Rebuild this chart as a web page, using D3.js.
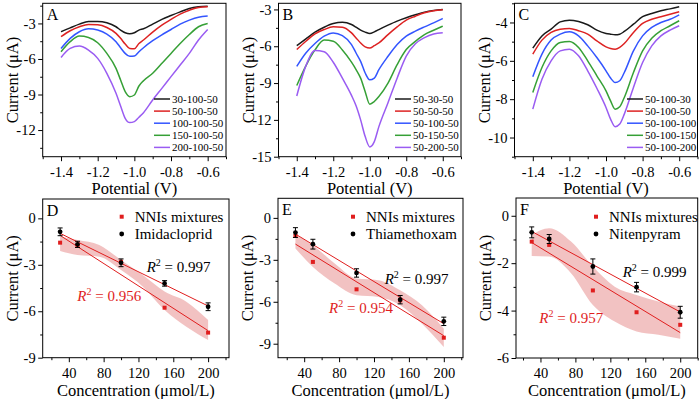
<!DOCTYPE html>
<html>
<head>
<meta charset="utf-8">
<script src="https://cdn.jsdelivr.net/npm/d3@7/dist/d3.min.js"></script>
<style>
  body { margin: 0; background: #fff; }
  svg { display: block; font-family: "Liberation Serif", "Times New Roman", serif; }
</style>
</head>
<body>
<svg id="chart" width="700" height="399"></svg>
<script>
// ---- DPV curves (panels A-C) ----
const potentialAB = [-1.4, -1.35, -1.3, -1.25, -1.2, -1.15, -1.1, -1.075, -1.05, -1.025, -1.0, -0.975, -0.95, -0.9, -0.85, -0.8, -0.75, -0.7, -0.65, -0.6];
const potentialC = [-1.4, -1.35, -1.3, -1.25, -1.2, -1.15, -1.1, -1.05, -1.0, -0.975, -0.95, -0.925, -0.9, -0.85, -0.8, -0.75, -0.7, -0.65, -0.6];

const labelsA = ['30-100-50', '50-100-50', '100-100-50', '150-100-50', '200-100-50'];
const currentA30 = [-3.70, -3.37, -3.06, -2.83, -2.83, -2.94, -3.28, -3.56, -3.79, -3.87, -3.79, -3.56, -3.45, -3.06, -2.66, -2.33, -2.02, -1.74, -1.60, -1.54];
const currentA50 = [-4.12, -3.62, -3.28, -3.08, -3.11, -3.34, -3.84, -4.26, -4.74, -5.11, -5.13, -4.69, -4.40, -3.73, -3.14, -2.66, -2.21, -1.88, -1.65, -1.60];
const currentA100 = [-5.11, -4.26, -3.70, -3.45, -3.56, -3.90, -4.54, -5.05, -5.53, -5.78, -5.75, -5.39, -5.05, -4.46, -3.96, -3.51, -3.06, -2.72, -2.47, -2.38];
const currentA150 = [-5.39, -4.54, -4.07, -4.18, -4.63, -5.53, -6.79, -7.78, -8.76, -9.18, -9.04, -8.28, -7.83, -7.21, -6.37, -5.53, -4.69, -3.93, -3.28, -3.00];
const currentA200 = [-5.87, -5.11, -4.91, -5.25, -5.95, -7.21, -8.90, -9.97, -11.01, -11.37, -11.29, -10.92, -10.53, -9.46, -8.48, -7.49, -6.51, -5.53, -4.40, -3.51];

const labelsB = ['50-30-50', '50-50-50', '50-100-50', '50-150-50', '50-200-50'];
const currentB30 = [-5.95, -5.40, -4.85, -4.45, -4.15, -4.04, -4.23, -4.45, -4.69, -4.85, -4.96, -4.83, -4.64, -4.28, -3.95, -3.68, -3.44, -3.22, -3.08, -3.00];
const currentB50 = [-6.27, -5.59, -4.99, -4.64, -4.42, -4.45, -4.91, -5.32, -5.73, -6.05, -6.14, -5.95, -5.73, -5.05, -4.42, -3.87, -3.55, -3.27, -3.11, -3.03];
const currentB100 = [-7.64, -6.55, -5.78, -5.18, -4.91, -5.13, -5.86, -6.55, -7.23, -8.18, -8.73, -8.59, -7.91, -6.82, -5.86, -5.18, -4.77, -4.42, -4.09, -3.74];
const currentB150 = [-9.20, -7.60, -6.30, -5.50, -5.60, -6.30, -7.30, -7.90, -8.60, -9.70, -10.72, -10.50, -10.10, -9.00, -7.50, -6.27, -5.60, -5.05, -4.70, -4.36];
const currentB200 = [-10.05, -7.60, -6.35, -6.45, -7.30, -8.60, -10.00, -10.85, -12.00, -13.36, -14.20, -13.77, -12.55, -10.60, -8.60, -6.80, -5.80, -5.30, -5.00, -4.90];

const labelsC = ['50-100-30', '50-100-50', '50-100-100', '50-100-150', '50-100-200'];
const currentC30 = [-5.34, -4.70, -4.35, -3.97, -3.88, -3.95, -4.12, -4.40, -4.57, -4.61, -4.64, -4.61, -4.47, -4.09, -3.70, -3.53, -3.39, -3.29, -3.18];
const currentC50 = [-5.65, -4.92, -4.52, -4.35, -4.31, -4.43, -4.61, -4.96, -5.27, -5.36, -5.39, -5.30, -5.10, -4.52, -4.05, -3.83, -3.70, -3.57, -3.44];
const currentC100 = [-6.83, -5.65, -4.92, -4.61, -4.49, -4.70, -5.22, -5.83, -6.52, -6.90, -7.13, -7.04, -6.61, -5.48, -4.70, -4.26, -4.00, -3.83, -3.60];
const currentC150 = [-7.65, -6.35, -5.48, -5.04, -4.99, -5.30, -6.00, -6.78, -7.57, -8.09, -8.52, -8.40, -7.91, -6.61, -5.48, -4.82, -4.43, -4.17, -3.91];
const currentC200 = [-8.52, -6.96, -6.00, -5.48, -5.39, -5.74, -6.52, -7.43, -8.43, -9.04, -9.44, -9.30, -8.78, -7.39, -6.09, -5.22, -4.70, -4.40, -4.17];

// ---- calibration (panels D-F) ----
const concentration = [30, 50, 100, 150, 200];
const imidacloprid = [-0.87, -1.68, -2.87, -4.20, -5.71];
const imidaclopridErr = [0.25, 0.20, 0.25, 0.18, 0.25];
const mixturesD = [-1.57, -1.75, -2.80, -5.77, -7.38];
const thiamethoxam = [-1.05, -1.88, -3.94, -5.85, -7.40];
const thiamethoxamErr = [0.35, 0.35, 0.30, 0.30, 0.30];
const mixturesE = [-1.29, -3.15, -5.11, -5.90, -8.57];
const nitenpyram = [-0.70, -0.98, -2.14, -3.01, -4.07];
const nitenpyramErr = [0.23, 0.19, 0.32, 0.20, 0.25];
const mixturesF = [-1.09, -1.23, -3.15, -4.07, -4.60];

// shaded bands around the mixtures
const bandConc = [30, 50, 75, 100, 125, 150, 175, 200];
const bandUpperD = [-1.19, -1.40, -1.72, -2.69, -3.66, -4.73, -5.38, -6.57];
const bandLowerD = [-2.11, -2.37, -2.48, -3.34, -4.41, -5.92, -7.00, -7.86];
const bandUpperE = [-1.19, -1.95, -3.27, -4.34, -4.46, -5.18, -6.25, -7.93];
const bandLowerE = [-2.19, -3.51, -4.70, -5.54, -5.66, -6.25, -7.57, -9.24];
const bandUpperF = [-0.81, -0.53, -1.09, -2.14, -2.99, -3.34, -3.62, -3.83];
const bandLowerF = [-1.70, -1.72, -2.42, -3.76, -4.46, -4.88, -5.02, -5.19];

const COLORS = ['#1a1a1a', '#dd2222', '#3355ff', '#36a036', '#9a5cf2'];
const RED = '#e01e1e';
const SERIF = '"Liberation Serif", "Times New Roman", serif';
const TICK_FONT = 14.5;
const TITLE_FONT = 16.5;

const svg = d3.select('#chart');

function fmtX(d) {
  return d.toFixed(1);
}

function drawAxes(p) {
  const x = d3.scaleLinear().domain(p.xDomain).range(p.xRange);
  const y = d3.scaleLinear().domain(p.yDomain).range(p.yRange);
  const x0 = p.xRange[0], x1 = p.xRange[1];
  const yb = p.yRange[0], yt = p.yRange[1];

  const styleAxis = g => {
    g.attr('font-family', SERIF);
    g.select('.domain').remove();
    g.selectAll('line').attr('stroke', '#000');
    g.selectAll('text')
      .attr('font-family', SERIF)
      .attr('font-size', TICK_FONT)
      .attr('fill', '#000');
  };

  // minor ticks
  svg.append('g')
    .attr('transform', `translate(0,${yb})`)
    .call(d3.axisBottom(x).tickValues(p.xMinor).tickSize(2.5).tickFormat(''))
    .call(styleAxis);
  svg.append('g')
    .attr('transform', `translate(${x0},0)`)
    .call(d3.axisLeft(y).tickValues(p.yMinor).tickSize(2.5).tickFormat(''))
    .call(styleAxis);

  // major ticks
  svg.append('g')
    .attr('transform', `translate(0,${yb})`)
    .call(d3.axisBottom(x).tickValues(p.xMajor).tickSize(4.5).tickPadding(5.5).tickFormat(p.xFormat))
    .call(styleAxis);
  svg.append('g')
    .attr('transform', `translate(${x0},0)`)
    .call(d3.axisLeft(y).tickValues(p.yMajor).tickSize(4.5).tickPadding(2.5).tickFormat(d => String(d)))
    .call(styleAxis);

  // frame
  svg.append('rect')
    .attr('x', x0).attr('y', yt)
    .attr('width', x1 - x0).attr('height', yb - yt)
    .attr('fill', 'none').attr('stroke', '#000').attr('stroke-width', 1);

  // titles
  svg.append('text')
    .attr('x', (x0 + x1) / 2).attr('y', p.xTitleY)
    .attr('text-anchor', 'middle')
    .attr('font-family', SERIF)
    .attr('font-size', TITLE_FONT)
    .text(p.xTitle);
  svg.append('text')
    .attr('transform', `translate(${x0 - 25},${(yb + yt) / 2}) rotate(-90)`)
    .attr('text-anchor', 'middle')
    .attr('font-family', SERIF)
    .attr('font-size', TITLE_FONT)
    .text('Current (\u03bcA)');

  // panel letter
  svg.append('text')
    .attr('x', x0 + 4).attr('y', yt + 17)
    .attr('font-family', SERIF)
    .attr('font-size', 16)
    .text(p.letter);

  return { x, y };
}

function drawDpv(p) {
  const { x, y } = drawAxes(Object.assign({
    xDomain: [-1.5, -0.5],
    xMajor: [-1.4, -1.2, -1.0, -0.8, -0.6],
    xMinor: [-1.5, -1.3, -1.1, -0.9, -0.7, -0.5],
    xFormat: fmtX,
    xTitle: 'Potential (V)',
    xTitleY: 194
  }, p));

  const line = d3.line()
    .x(d => x(d[0]))
    .y(d => y(d[1]))
    .curve(d3.curveMonotoneX);

  p.series.forEach((s, i) => {
    svg.append('path')
      .attr('d', line(p.potential.map((v, k) => [v, s[k]])))
      .attr('fill', 'none')
      .attr('stroke', COLORS[i])
      .attr('stroke-width', 1.5);
  });

  // legend
  const lg = svg.append('g');
  p.labels.forEach((lab, i) => {
    const ly = 99 + i * 12.1;
    lg.append('line')
      .attr('x1', p.legendX).attr('x2', p.legendX + 16)
      .attr('y1', ly).attr('y2', ly)
      .attr('stroke', COLORS[i]).attr('stroke-width', 1.5);
    lg.append('text')
      .attr('x', p.legendX + 18).attr('y', ly + 3.8)
      .attr('font-family', SERIF)
      .attr('font-size', 11)
      .text(lab);
  });
}

function fit(xs, ys) {
  const mx = d3.mean(xs), my = d3.mean(ys);
  let sxy = 0, sxx = 0;
  xs.forEach((v, i) => { sxy += (v - mx) * (ys[i] - my); sxx += (v - mx) * (v - mx); });
  const slope = sxy / sxx;
  return v => my + slope * (v - mx);
}

function r2Label(xp, yp, value, color) {
  const t = svg.append('text')
    .attr('x', xp).attr('y', yp)
    .attr('font-family', SERIF)
    .attr('font-size', 15)
    .attr('fill', color);
  t.append('tspan').attr('font-style', 'italic').text('R');
  t.append('tspan').attr('font-size', 10).attr('dy', -6).text('2');
  t.append('tspan').attr('dy', 6).text(' = ' + value);
}

function drawCalib(p) {
  const { x, y } = drawAxes(Object.assign({
    xMajor: [40, 80, 120, 160, 200],
    xMinor: [20, 60, 100, 140, 180, 220].filter(v => v >= p.xDomain[0] && v <= p.xDomain[1]),
    xFormat: d => String(d),
    xTitle: 'Concentration (\u03bcmol/L)',
    xTitleY: 396
  }, p));

  // shaded band
  const area = d3.area()
    .x((d, i) => x(bandConc[i]))
    .y0((d, i) => y(p.bandLower[i]))
    .y1((d, i) => y(p.bandUpper[i]))
    .curve(d3.curveMonotoneX);
  svg.append('path')
    .attr('d', area(bandConc))
    .attr('fill', '#d95050')
    .attr('fill-opacity', 0.35);

  // fit lines
  [p.single, p.mixture].forEach(ys => {
    const f = fit(concentration, ys);
    svg.append('line')
      .attr('x1', x(30)).attr('y1', y(f(30)))
      .attr('x2', x(200)).attr('y2', y(f(200)))
      .attr('stroke', RED).attr('stroke-width', 1);
  });

  // mixture points
  svg.selectAll(null)
    .data(concentration)
    .enter()
    .append('rect')
    .attr('x', (d) => x(d) - 2)
    .attr('y', (d, i) => y(p.mixture[i]) - 2)
    .attr('width', 4).attr('height', 4)
    .attr('fill', RED);

  // single compound points with error bars
  const eb = svg.append('g').attr('stroke', '#000').attr('stroke-width', 1);
  concentration.forEach((c, i) => {
    const cx = x(c);
    const yTop = y(p.single[i] + p.err[i]);
    const yBot = y(p.single[i] - p.err[i]);
    eb.append('line').attr('x1', cx).attr('x2', cx).attr('y1', yTop).attr('y2', yBot);
    eb.append('line').attr('x1', cx - 2.5).attr('x2', cx + 2.5).attr('y1', yTop).attr('y2', yTop);
    eb.append('line').attr('x1', cx - 2.5).attr('x2', cx + 2.5).attr('y1', yBot).attr('y2', yBot);
  });
  svg.selectAll(null)
    .data(concentration)
    .enter()
    .append('circle')
    .attr('cx', d => x(d))
    .attr('cy', (d, i) => y(p.single[i]))
    .attr('r', 2.4)
    .attr('fill', '#000');

  // legend
  const lx = p.legendX;
  svg.append('rect').attr('x', lx - 2).attr('y', 214.7).attr('width', 4).attr('height', 4).attr('fill', RED);
  svg.append('text').attr('x', lx + 13).attr('y', 221.5)
    .attr('font-family', SERIF).attr('font-size', 15).text('NNIs mixtures');
  svg.append('circle').attr('cx', lx).attr('cy', 234).attr('r', 2.4).attr('fill', '#000');
  svg.append('text').attr('x', lx + 13).attr('y', 238.5)
    .attr('font-family', SERIF).attr('font-size', 15).text(p.name);

  r2Label(p.r2Single[0], p.r2Single[1], p.r2SingleText, '#000');
  r2Label(p.r2Mix[0], p.r2Mix[1], p.r2MixText, RED);
}

drawDpv({
  letter: 'A',
  xRange: [42.7, 226], yDomain: [-14.25, -1.3], yRange: [156.7, 3.3],
  yMajor: [-12, -9, -6, -3], yMinor: [-13.5, -10.5, -7.5, -4.5, -1.5],
  potential: potentialAB,
  series: [currentA30, currentA50, currentA100, currentA150, currentA200],
  labels: labelsA, legendX: 154
});
drawDpv({
  letter: 'B',
  xRange: [278.5, 461], yDomain: [-15, -2.5], yRange: [156.7, 3.3],
  yMajor: [-15, -12, -9, -6, -3], yMinor: [-13.5, -10.5, -7.5, -4.5],
  potential: potentialAB,
  series: [currentB30, currentB50, currentB100, currentB150, currentB200],
  labels: labelsB, legendX: 395
});
drawDpv({
  letter: 'C',
  xRange: [514.5, 697.5], yDomain: [-11, -3], yRange: [156.7, 3.3],
  yMajor: [-10, -8, -6, -4], yMinor: [-11, -9, -7, -5, -3],
  potential: potentialC,
  series: [currentC30, currentC50, currentC100, currentC150, currentC200],
  labels: labelsC, legendX: 627
});

drawCalib({
  letter: 'D', name: 'Imidacloprid',
  xDomain: [10, 224], xRange: [42.7, 229],
  yDomain: [-9, 1.25], yRange: [357.7, 199],
  yMajor: [0, -3, -6, -9], yMinor: [-1.5, -4.5, -7.5],
  single: imidacloprid, err: imidaclopridErr, mixture: mixturesD,
  bandUpper: bandUpperD, bandLower: bandLowerD,
  legendX: 121.7,
  r2Single: [146.7, 272.3], r2SingleText: '0.997',
  r2Mix: [77.3, 301], r2MixText: '0.956'
});
drawCalib({
  letter: 'E', name: 'Thiamethoxam',
  xDomain: [10, 222], xRange: [278, 463],
  yDomain: [-10, 1.4], yRange: [357.7, 198.3],
  yMajor: [0, -3, -6, -9], yMinor: [-1.5, -4.5, -7.5],
  single: thiamethoxam, err: thiamethoxamErr, mixture: mixturesE,
  bandUpper: bandUpperE, bandLower: bandLowerE,
  legendX: 353,
  r2Single: [384.7, 284.3], r2SingleText: '0.997',
  r2Mix: [329, 313.3], r2MixText: '0.954'
});
drawCalib({
  letter: 'F', name: 'Nitenpyram',
  xDomain: [12, 220], xRange: [516, 697.7],
  yDomain: [-6, 0.75], yRange: [358, 198],
  yMajor: [0, -2, -4, -6], yMinor: [-1, -3, -5],
  single: nitenpyram, err: nitenpyramErr, mixture: mixturesF,
  bandUpper: bandUpperF, bandLower: bandLowerF,
  legendX: 596,
  r2Single: [622.7, 276.7], r2SingleText: '0.999',
  r2Mix: [539.3, 322.7], r2MixText: '0.957'
});
</script>
</body>
</html>
